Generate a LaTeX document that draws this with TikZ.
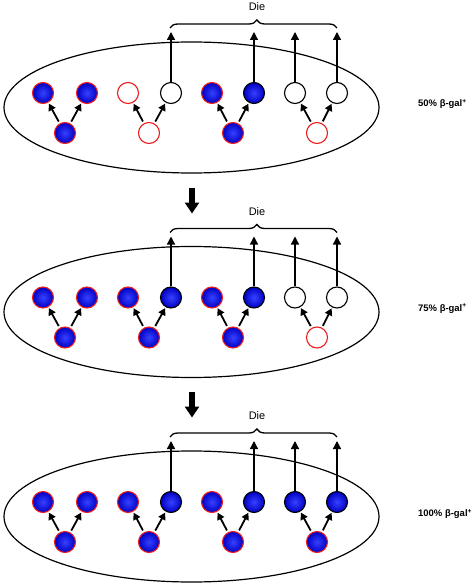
\documentclass[tikz,border=0pt]{standalone}
\usepackage{fontspec}
\setmainfont{Liberation Sans}
\usepackage{tikz}
\usetikzlibrary{arrows.meta,decorations.pathreplacing}
\definecolor{cellblue}{RGB}{55,65,255}
\definecolor{cellbluedark}{RGB}{0,0,195}
\definecolor{cellred}{RGB}{235,30,30}

\tikzset{
  cell/.style={circle, minimum size=21bp, inner sep=0pt, line width=1.1bp},
  bluered/.style={cell, draw=cellred, shade, inner color=cellblue, outer color=cellbluedark},
  blueblack/.style={cell, draw=black, shade, inner color=cellblue, outer color=cellbluedark},
  whitered/.style={cell, draw=cellred, fill=white},
  whiteblack/.style={cell, draw=black, fill=white},
  split/.style={line width=1.8bp, -{Triangle[length=7bp,width=7.5bp]}, shorten <=2bp, shorten >=1bp},
  die/.style={line width=1.3bp, -{Triangle[length=8bp,width=8bp]}},
  bracket/.style={decorate, decoration={brace, amplitude=8bp, aspect=0.52}, line width=1.3bp},
  bigarrow/.style={line width=6bp, -{Triangle[length=11bp,width=14bp]}},
  pool/.style={line width=1.2bp},
  txt/.style={font=\fontsize{11}{13}\selectfont, inner sep=0pt},
  pct/.style={font=\fontsize{9.5}{11}\selectfont\bfseries, inner sep=0pt, anchor=west}
}

\begin{document}
\begin{tikzpicture}[x=1bp, y=-1bp]
  \useasboundingbox (0,0) rectangle (475,586);

  % 50 %
  \begin{scope}[name prefix=p1-]
    \draw[pool] (191.5,107.5) ellipse [x radius=187.5, y radius=65.5];
    \node[bluered] (m1) at (65,133) {};
    \node[bluered] (l1) at (43,93) {};
    \node[bluered] (r1) at (87,93) {};
    \node[whitered] (m2) at (149,133) {};
    \node[whitered] (l2) at (128,93) {};
    \node[whiteblack] (r2) at (171,93) {};
    \node[bluered] (m3) at (233,133) {};
    \node[bluered] (l3) at (212,93) {};
    \node[blueblack] (r3) at (254,93) {};
    \node[whitered] (m4) at (317,133) {};
    \node[whiteblack] (l4) at (295,93) {};
    \node[whiteblack] (r4) at (337,93) {};
    \draw[split] (m1) -- (l1);
    \draw[split] (m1) -- (r1);
    \draw[split] (m2) -- (l2);
    \draw[split] (m2) -- (r2);
    \draw[split] (m3) -- (l3);
    \draw[split] (m3) -- (r3);
    \draw[split] (m4) -- (l4);
    \draw[split] (m4) -- (r4);
    \coordinate (t2) at (171,32);
    \coordinate (t3) at (254,32);
    \coordinate (t4) at (295,32);
    \coordinate (t5) at (337,32);
    \draw[die] (r2) -- (t2);
    \draw[die] (r3) -- (t3);
    \draw[die] (l4) -- (t4);
    \draw[die] (r4) -- (t5);
    \coordinate (ba) at (170,28);
    \coordinate (bb) at (337,28);
    \draw[bracket] (ba) -- (bb);
    \node[txt] (die) at (257,7) {Die};
    \node[pct] (lab) at (418,104) {50\% β-gal\textsuperscript{+}};
  \end{scope}

  % 75 %
  \begin{scope}[shift={(0,204.5)}, name prefix=p2-]
    \draw[pool] (191.5,107.5) ellipse [x radius=187.5, y radius=65.5];
    \node[bluered] (m1) at (65,133) {};
    \node[bluered] (l1) at (43,93) {};
    \node[bluered] (r1) at (87,93) {};
    \node[bluered] (m2) at (149,133) {};
    \node[bluered] (l2) at (128,93) {};
    \node[blueblack] (r2) at (171,93) {};
    \node[bluered] (m3) at (233,133) {};
    \node[bluered] (l3) at (212,93) {};
    \node[blueblack] (r3) at (254,93) {};
    \node[whitered] (m4) at (317,133) {};
    \node[whiteblack] (l4) at (295,93) {};
    \node[whiteblack] (r4) at (337,93) {};
    \draw[split] (m1) -- (l1);
    \draw[split] (m1) -- (r1);
    \draw[split] (m2) -- (l2);
    \draw[split] (m2) -- (r2);
    \draw[split] (m3) -- (l3);
    \draw[split] (m3) -- (r3);
    \draw[split] (m4) -- (l4);
    \draw[split] (m4) -- (r4);
    \coordinate (t2) at (171,32);
    \coordinate (t3) at (254,32);
    \coordinate (t4) at (295,32);
    \coordinate (t5) at (337,32);
    \draw[die] (r2) -- (t2);
    \draw[die] (r3) -- (t3);
    \draw[die] (l4) -- (t4);
    \draw[die] (r4) -- (t5);
    \coordinate (ba) at (170,28);
    \coordinate (bb) at (337,28);
    \draw[bracket] (ba) -- (bb);
    \node[txt] (die) at (257,7) {Die};
    \node[pct] (lab) at (418,104) {75\% β-gal\textsuperscript{+}};
    \coordinate (da) at (192,-16.5);
    \coordinate (db) at (192,9);
    \draw[bigarrow] (da) -- (db);
  \end{scope}

  % 100 %
  \begin{scope}[shift={(0,409)}, name prefix=p3-]
    \draw[pool] (191.5,107.5) ellipse [x radius=187.5, y radius=65.5];
    \node[bluered] (m1) at (65,133) {};
    \node[bluered] (l1) at (43,93) {};
    \node[bluered] (r1) at (87,93) {};
    \node[bluered] (m2) at (149,133) {};
    \node[bluered] (l2) at (128,93) {};
    \node[blueblack] (r2) at (171,93) {};
    \node[bluered] (m3) at (233,133) {};
    \node[bluered] (l3) at (212,93) {};
    \node[blueblack] (r3) at (254,93) {};
    \node[bluered] (m4) at (317,133) {};
    \node[blueblack] (l4) at (295,93) {};
    \node[blueblack] (r4) at (337,93) {};
    \draw[split] (m1) -- (l1);
    \draw[split] (m1) -- (r1);
    \draw[split] (m2) -- (l2);
    \draw[split] (m2) -- (r2);
    \draw[split] (m3) -- (l3);
    \draw[split] (m3) -- (r3);
    \draw[split] (m4) -- (l4);
    \draw[split] (m4) -- (r4);
    \coordinate (t2) at (171,32);
    \coordinate (t3) at (254,32);
    \coordinate (t4) at (295,32);
    \coordinate (t5) at (337,32);
    \draw[die] (r2) -- (t2);
    \draw[die] (r3) -- (t3);
    \draw[die] (l4) -- (t4);
    \draw[die] (r4) -- (t5);
    \coordinate (ba) at (170,28);
    \coordinate (bb) at (337,28);
    \draw[bracket] (ba) -- (bb);
    \node[txt] (die) at (257,7) {Die};
    \node[pct] (lab) at (418,105) {100\% β-gal\textsuperscript{+}};
    \coordinate (da) at (192,-17);
    \coordinate (db) at (192,8.5);
    \draw[bigarrow] (da) -- (db);
  \end{scope}
\end{tikzpicture}
\end{document}
